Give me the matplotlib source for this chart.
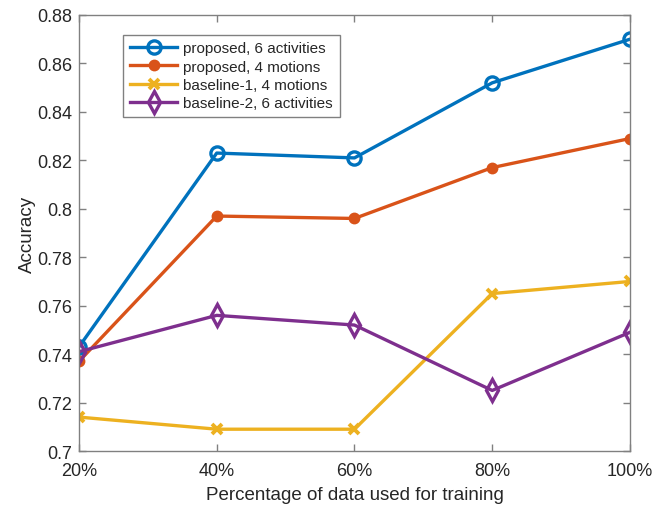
import matplotlib
matplotlib.use('Agg')
import matplotlib.pyplot as plt

plt.rcParams['font.family'] = ['Liberation Sans', 'DejaVu Sans']

# Datos
x = [20, 40, 60, 80, 100]
x_labels = ['20%', '40%', '60%', '80%', '100%']
prop_6act = [0.743, 0.823, 0.821, 0.852, 0.870]
prop_4mot = [0.737, 0.797, 0.796, 0.817, 0.829]
base1_4mot = [0.714, 0.709, 0.709, 0.765, 0.770]
base2_6act = [0.741, 0.756, 0.752, 0.725, 0.749]
y_ticks = [0.70, 0.72, 0.74, 0.76, 0.78, 0.80, 0.82, 0.84, 0.86, 0.88]
y_labels = ['0.7', '0.72', '0.74', '0.76', '0.78', '0.8', '0.82', '0.84', '0.86', '0.88']

fig = plt.figure(figsize=(6.62, 5.06), dpi=100)
ax = fig.add_axes([0.1193, 0.1067, 0.8323, 0.8617])

lw = 2.4
ax.plot(x, prop_6act, color='#0072BD', lw=lw, marker='o', ms=9.5, mfc='none', mew=2.4,
        label='proposed, 6 activities')
ax.plot(x, prop_4mot, color='#D95319', lw=lw, marker='o', ms=7, mfc='#D95319', mew=1.5,
        label='proposed, 4 motions')
ax.plot(x, base1_4mot, color='#EDB120', lw=lw, marker='x', ms=6.5, mew=2.8,
        label='baseline-1, 4 motions')
ax.plot(x, base2_6act, color='#7E2F8E', lw=lw, marker='d', ms=11, mfc='none', mew=2.4,
        label='baseline-2, 6 activities')

ax.set_xlim(20, 100)
ax.set_ylim(0.70, 0.88)
ax.set_xticks(x)
ax.set_xticklabels(x_labels)
ax.set_yticks(y_ticks)
ax.set_yticklabels(y_labels)

for s in ax.spines.values():
    s.set_color('#808080')
    s.set_linewidth(1.0)
ax.tick_params(direction='in', length=5, width=1.0, color='#808080', labelsize=13,
               labelcolor='#262626', top=True, right=True)
ax.tick_params(axis='x', pad=8)
ax.tick_params(axis='y', pad=5)
ax.set_xlabel('Percentage of data used for training', fontsize=13.5, color='#262626', labelpad=5)
ax.set_ylabel('Accuracy', fontsize=13.5, color='#262626', labelpad=1)

leg = ax.legend(loc='upper left', bbox_to_anchor=(0.08, 0.955), fontsize=11,
                fancybox=False, framealpha=1, edgecolor='#808080',
                handlelength=3.1, handletextpad=0.4, borderpad=0.45, labelspacing=0.28,
                borderaxespad=0)
leg.get_frame().set_linewidth(1.0)
for t in leg.get_texts():
    t.set_color('#262626')

fig.savefig('out.png', dpi=100)
plt.close()
